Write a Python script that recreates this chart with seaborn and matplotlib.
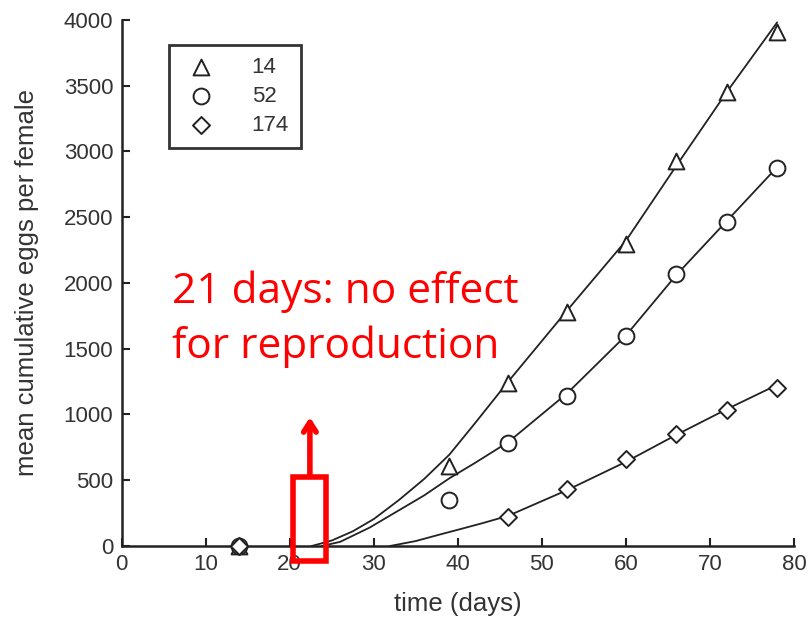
import matplotlib
matplotlib.use("Agg")
import matplotlib.pyplot as plt
import seaborn as sns
import pandas as pd
from matplotlib.patches import Rectangle

# observed data (markers)
obs_days = [14, 39, 46, 53, 60, 66, 72, 78]
obs_14 = [0, 610, 1240, 1775, 2295, 2925, 3450, 3910]
obs_52 = [0, 350, 780, 1140, 1600, 2065, 2465, 2870]
obs_174 = [0, None, 218, 433, 664, 852, 1036, 1201]

# fitted curves (lines)
fit_days_14 = [22.6, 25, 27.5, 30, 33, 36, 39, 42, 46, 53, 60, 66, 72, 78]
fit_14 = [0, 42, 112, 205, 350, 510, 695, 930, 1250, 1790, 2320, 2890, 3450, 3980]
fit_days_52 = [23.8, 26, 29.5, 33, 36, 39, 42, 46, 53, 60, 66, 72, 78]
fit_52 = [0, 32, 140, 272, 385, 515, 630, 790, 1160, 1600, 2060, 2470, 2880]
fit_days_174 = [31.9, 35, 38, 40.2, 43, 46, 53, 60, 66, 72, 78]
fit_174 = [0, 38, 90, 127, 175, 230, 425, 640, 845, 1040, 1225]

labels = ["14", "52", "174"]
markers = ["^", "o", "D"]

sns.set_style("ticks")
plt.rcParams["font.family"] = ["Liberation Sans", "DejaVu Sans"]

fig = plt.figure(figsize=(8.11, 6.17), dpi=100)
ax = fig.add_axes([0.150, 0.115, 0.829, 0.853])

line_col = "#222222"
fit_sets = [(fit_days_14, fit_14), (fit_days_52, fit_52), (fit_days_174, fit_174)]
for (dx, dy) in fit_sets:
    sns.lineplot(x=dx, y=dy, ax=ax, color=line_col, lw=1.3, legend=False)

obs_sets = [obs_14, obs_52, obs_174]
for lab, mk, vals in zip(labels, markers, obs_sets):
    df = pd.DataFrame({"day": obs_days, "val": vals}).dropna()
    size = 130 if mk != "D" else 75
    sns.scatterplot(data=df, x="day", y="val", ax=ax, marker=mk, s=size,
                    facecolor="white", edgecolor=line_col, linewidth=1.4,
                    label=lab, zorder=4, clip_on=False)

ax.set_xlim(0, 80)
ax.set_ylim(0, 4000)
ax.set_xticks(range(0, 81, 10))
ax.set_yticks(range(0, 4001, 500))
for s in ["top", "right"]:
    ax.spines[s].set_visible(False)
for s in ["left", "bottom"]:
    ax.spines[s].set_linewidth(1.8)
    ax.spines[s].set_color("#222222")
ax.tick_params(direction="in", length=6, width=1.5, labelsize=16, colors="#222222",
               labelcolor="#333333", pad=6)
ax.set_xlabel("time (days)", fontsize=18.5, color="#333333", labelpad=12)
ax.set_ylabel("mean cumulative eggs per female", fontsize=18.5, color="#333333", labelpad=18)

leg = ax.legend(loc="upper left", bbox_to_anchor=(0.071, 0.952), frameon=True,
                fancybox=False, edgecolor="black", fontsize=16, handletextpad=1.4,
                borderpad=0.55, labelspacing=0.35, handlelength=1.75, borderaxespad=0)
leg.get_frame().set_linewidth(2.0)
for t in leg.get_texts():
    t.set_color("#333333")

red = "#ff0000"
ax.add_patch(Rectangle((20.4, -110), 3.9, 635, fill=False, edgecolor=red,
                       lw=4, clip_on=False, zorder=6))
ax.annotate("", xy=(22.4, 1000), xytext=(22.4, 525),
            arrowprops=dict(arrowstyle="->,head_length=0.7,head_width=0.45",
                            color=red, lw=4), zorder=6, annotation_clip=False)
ax.text(6.0, 1848, "21 days: no effect", color=red,
        fontsize=30.5, family=["Open Sans", "DejaVu Sans"], va="baseline", ha="left")
ax.text(6.0, 1430, "for reproduction", color=red,
        fontsize=30.5, family=["Open Sans", "DejaVu Sans"], va="baseline", ha="left")

fig.savefig("out.png", dpi=100)
